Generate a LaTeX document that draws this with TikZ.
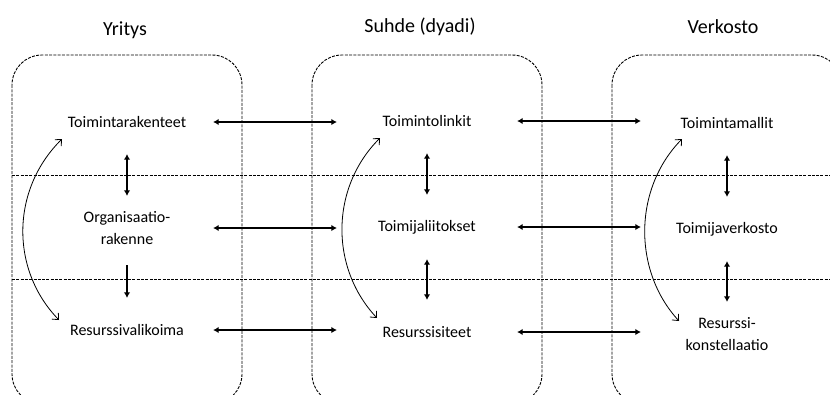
\documentclass[tikz,border=0pt]{standalone}
\usepackage{fontspec}
\setmainfont{Carlito}
\usetikzlibrary{arrows.meta,calc}
\begin{document}
\begin{tikzpicture}[x=1pt,y=-1pt,
  dashline/.style={draw, line width=0.9pt, dash pattern=on 3pt off 1.3pt},
  box/.style={dashline, rounded corners=30pt},
  title/.style={font=\fontsize{20}{24}\selectfont, anchor=base, inner sep=0pt},
  item/.style={font=\fontsize{16}{21.5}\selectfont, align=center, inner sep=0pt,
    minimum height=64pt, minimum width=172pt},
  mitem/.style={item, minimum width=180pt},
  link/.style={line width=1.6pt, {Latex[length=5.5pt,width=6.5pt]}-{Latex[length=5.5pt,width=6.5pt]}},
  onelink/.style={line width=1.6pt, -{Latex[length=5.5pt,width=6.5pt]}},
  loop/.style={line width=0.8pt, {Straight Barb[length=5pt,width=9pt]}-{Straight Barb[length=5pt,width=9pt]}}
]
\useasboundingbox (0,0) rectangle (830,394);
\clip (0,0) rectangle (830,394);

% frames
\draw[box] (12,55) rectangle (242,404);
\draw[box] (312,55) rectangle (542,404);
\draw[box] (612,55) rectangle (842,404);
\draw[dashline] (12,175) -- (840,175);
\draw[dashline] (12,279) -- (840,279);

% titles
\node[title] (tY) at (125,35) {Yritys};
\node[title] (tS) at (420,32) {Suhde (dyadi)};
\node[title] (tV) at (723,33) {Verkosto};

% left column
\node[item] (a1) at (127,122) {Toimintarakenteet};
\node[item] (a2) at (127,228) {Organisaatio-\\rakenne};
\node[item] (a3) at (127,330) {Resurssivalikoima};
% middle column
\node[mitem] (m1) at (427,121) {Toimintolinkit};
\node[mitem] (m2) at (427,227) {Toimijaliitokset};
\node[mitem] (m3) at (427,332) {Resurssisiteet};
% right column
\node[item] (r1) at (727,123) {Toimintamallit};
\node[item] (r2) at (727,229) {Toimijaverkosto};
\node[item] (r3) at (727,334) {Resurssi-\\konstellaatio};

% horizontal links
\draw[link] (a1.east) -- (a1.east -| m1.west);
\draw[link] (a2.east) -- (a2.east -| m2.west);
\draw[link] (a3.east) -- (a3.east -| m3.west);
\draw[link] (m1.east) -- (m1.east -| r1.west);
\draw[link] (m2.east) -- (m2.east -| r2.west);
\draw[link] (m3.east) -- (m3.east -| r3.west);

% vertical links
\draw[link] (a1.south) -- (a2.north);
\draw[onelink, shorten <=5pt] (a2.south) -- (a3.north);
\draw[link] (m1.south) -- (m2.north);
\draw[link] (m2.south) -- (m3.north);
\draw[link] (r1.south) -- (r2.north);
\draw[link] (r2.south) -- (r3.north);

% curved links
\draw[loop] ($(a1)+(-65,17)$) .. controls ($(a1)+(-116.5,68)$) and ($(a1)+(-116.5,148)$) .. ($(a3)+(-68,-10)$);
\draw[loop] ($(m1)+(-47,17)$) .. controls ($(m1)+(-97,67)$) and ($(m1)+(-97,147)$) .. ($(m3)+(-50,-14)$);
\draw[loop] ($(r1)+(-45,16)$) .. controls ($(r1)+(-94,66)$) and ($(r1)+(-94,148)$) .. ($(r3)+(-48,-13)$);
\end{tikzpicture}
\end{document}
